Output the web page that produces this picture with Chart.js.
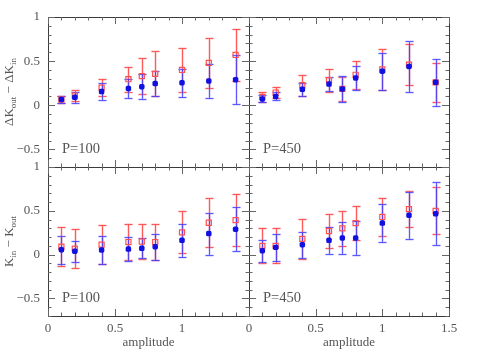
<!DOCTYPE html>
<html><head><meta charset="utf-8">
<script src="https://cdn.jsdelivr.net/npm/chart.js@4/dist/chart.umd.min.js"></script>
<style>
html,body{margin:0;padding:0;background:#fff;}
#wrap{position:relative;width:478px;height:357px;}
#wrap canvas{position:absolute;left:0;top:0;}
</style></head>
<body><div id="wrap">
<canvas id="c0" width="478" height="357"></canvas>
<canvas id="c1" width="478" height="357"></canvas>
<canvas id="c2" width="478" height="357"></canvas>
<canvas id="c3" width="478" height="357"></canvas>
</div>
<script>
// ---- data ----
const amplitude = [0.1, 0.2, 0.4, 0.6, 0.7, 0.8, 1.0, 1.2, 1.4];
const xTickLabels = ['0', '0.5', '1', '1.5'];
const yTickLabels = ['\u22120.5', '0', '0.5', '1'];
const panelLabels = ['P=100', 'P=450', 'P=100', 'P=450'];
const xTitle = 'amplitude';

const tlBlue = [0.065, 0.09, 0.155, 0.19, 0.21, 0.245, 0.255, 0.275, 0.29];
const tlBlueErr = [0.045, 0.065, 0.095, 0.11, 0.14, 0.145, 0.16, 0.19, 0.28];
const tlRed = [0.065, 0.11, 0.2, 0.295, 0.33, 0.355, 0.40, 0.48, 0.57];
const tlRedErr = [0.045, 0.06, 0.1, 0.14, 0.2, 0.255, 0.245, 0.28, 0.29];

const trBlue = [0.072, 0.10, 0.18, 0.24, 0.185, 0.31, 0.386, 0.44, 0.26];
const trBlueErr = [0.04, 0.045, 0.07, 0.08, 0.145, 0.136, 0.21, 0.29, 0.265];
const trRed = [0.095, 0.144, 0.227, 0.284, 0.185, 0.345, 0.405, 0.46, 0.26];
const trRedErr = [0.057, 0.06, 0.117, 0.13, 0.14, 0.16, 0.23, 0.23, 0.22];

const blBlue = [0.057, 0.04, 0.053, 0.064, 0.072, 0.09, 0.163, 0.24, 0.29];
const blBlueErr = [0.16, 0.12, 0.16, 0.14, 0.115, 0.15, 0.185, 0.24, 0.25];
const blRed = [0.09, 0.068, 0.114, 0.144, 0.15, 0.144, 0.254, 0.364, 0.394];
const blRedErr = [0.22, 0.22, 0.22, 0.2, 0.2, 0.2, 0.24, 0.28, 0.3];

const brBlue = [0.045, 0.083, 0.114, 0.163, 0.19, 0.19, 0.36, 0.45, 0.466];
const brBlueErr = [0.125, 0.155, 0.15, 0.15, 0.185, 0.19, 0.215, 0.27, 0.36];
const brRed = [0.1, 0.1, 0.18, 0.27, 0.3, 0.36, 0.43, 0.52, 0.5];
const brRedErr = [0.2, 0.2, 0.225, 0.19, 0.2, 0.19, 0.22, 0.21, 0.27];

// ---- layout ----
const W = 478, H = 357;
const colX = [[48, 249], [249, 449]];
const rowY = [[17, 167], [167, 316]];
const FONT = '"Liberation Serif", "DejaVu Serif", serif';
const INK = '#3a3a3a';
const TEXT = '#555';

function pts(xs, ys) { return xs.map((x, i) => ({x: x, y: ys[i]})); }

const errorBarPlugin = {
  id: 'errbars',
  beforeDatasetsDraw(chart) {
    const ctx = chart.ctx;
    const ys = chart.scales.y;
    ctx.save();
    const metas = chart.getSortedVisibleDatasetMetas().slice().reverse();
    metas.forEach(meta => {
      const ds = chart.data.datasets[meta.index];
      if (!ds.err) return;
      meta.data.forEach((el, i) => {
        const v = ds.data[i].y, e = ds.err[i];
        const x = Math.round(el.x) + 0.5;
        const y1 = Math.round(ys.getPixelForValue(v + e)) + 0.5, y2 = Math.round(ys.getPixelForValue(v - e)) + 0.5;
        ctx.strokeStyle = ds.haloColor; ctx.lineWidth = 2.5;
        ctx.beginPath();
        ctx.moveTo(x, y1); ctx.lineTo(x, y2);
        ctx.moveTo(x - 4, y1); ctx.lineTo(x + 4, y1);
        ctx.moveTo(x - 4, y2); ctx.lineTo(x + 4, y2);
        ctx.stroke();
        ctx.strokeStyle = ds.barColor; ctx.lineWidth = 1;
        ctx.beginPath();
        ctx.moveTo(x, y1); ctx.lineTo(x, y2);
        ctx.moveTo(x - 4, y1); ctx.lineTo(x + 4, y1);
        ctx.moveTo(x - 4, y2); ctx.lineTo(x + 4, y2);
        ctx.stroke();
      });
    });
    ctx.restore();
  }
};

function drawSubText(ctx, parts, cx, cy, rotate) {
  ctx.save();
  ctx.translate(cx, cy);
  if (rotate) ctx.rotate(-Math.PI / 2);
  const big = '13px ' + FONT, small = '9px ' + FONT;
  let total = 0;
  parts.forEach(p => { ctx.font = p[1] ? small : big; total += ctx.measureText(p[0]).width; });
  let x = -total / 2;
  ctx.fillStyle = TEXT; ctx.textBaseline = 'middle'; ctx.textAlign = 'left';
  parts.forEach(p => {
    ctx.font = p[1] ? small : big;
    ctx.fillText(p[0], x, p[1] ? 4 : 0);
    x += ctx.measureText(p[0]).width;
  });
  ctx.restore();
}

const framePlugin = {
  id: 'frame',
  afterDraw(chart) {
    const o = chart.options.plugins.frame;
    const ctx = chart.ctx, ca = chart.chartArea;
    const xs = chart.scales.x, ys = chart.scales.y;
    ctx.save();
    ctx.strokeStyle = INK; ctx.lineWidth = 1;
    ctx.strokeRect(Math.round(ca.left) + 0.5, Math.round(ca.top) + 0.5, Math.round(ca.right - ca.left), Math.round(ca.bottom - ca.top));
    ctx.strokeStyle = '#666';
    ctx.beginPath();
    for (let k = 0; k <= 15; k++) {
      const v = k / 10;
      const px = Math.round(xs.getPixelForValue(v)) + 0.5;
      const len = (k % 5 === 0) ? 7 : 3.5;
      ctx.moveTo(px, ca.top); ctx.lineTo(px, ca.top + len);
      ctx.moveTo(px, ca.bottom); ctx.lineTo(px, ca.bottom - len);
    }
    for (let k = -7; k <= 10; k++) {
      const v = k / 10;
      const py = Math.round(ys.getPixelForValue(v)) + 0.5;
      const len = (k % 5 === 0) ? 7 : 3.5;
      ctx.moveTo(ca.left, py); ctx.lineTo(ca.left + len, py);
      ctx.moveTo(ca.right, py); ctx.lineTo(ca.right - len, py);
    }
    ctx.stroke();
    ctx.fillStyle = TEXT;
    ctx.font = '13px ' + FONT;
    if (o.yLabels) {
      ctx.textAlign = 'right'; ctx.textBaseline = 'middle';
      [-0.5, 0, 0.5, 1].forEach((v, i) => {
        ctx.fillText(yTickLabels[i], ca.left - 8, ys.getPixelForValue(v));
      });
    }
    if (o.xLabels) {
      ctx.textAlign = 'center'; ctx.textBaseline = 'top';
      [0, 0.5, 1, 1.5].forEach((v, i) => {
        if (i < o.xLabels) ctx.fillText(xTickLabels[i], xs.getPixelForValue(v), ca.bottom + 6);
      });
      ctx.fillText(xTitle, (ca.left + ca.right) / 2, ca.bottom + 20);
    }
    ctx.textAlign = 'left'; ctx.textBaseline = 'alphabetic';
    ctx.font = '14.5px ' + FONT;
    ctx.fillText(o.label, ca.left + 14, ca.bottom - 14);
    if (o.yTitle) drawSubText(ctx, o.yTitle, 10, (ca.top + ca.bottom) / 2, true);
    ctx.restore();
  }
};

function makeChart(id, col, row, blue, blueErr, red, redErr, frameOpts) {
  const [L, R] = colX[col], [T, B] = rowY[row];
  return new Chart(document.getElementById(id), {
    type: 'scatter',
    data: {
      datasets: [
        {
          data: pts(amplitude, blue), err: blueErr, order: 0,
          barColor: 'rgba(60,60,255,0.8)', haloColor: 'rgba(130,130,255,0.3)',
          pointStyle: 'rectRounded', pointRadius: 3.2, backgroundColor: '#1010e0', borderColor: '#1010e0', borderWidth: 0
        },
        {
          data: pts(amplitude, red), err: redErr, order: 1,
          barColor: 'rgba(255,60,60,0.8)', haloColor: 'rgba(255,130,130,0.35)',
          pointStyle: 'rect', pointRadius: 3.6, backgroundColor: 'rgba(255,255,255,0)', borderColor: '#ff5050', borderWidth: 1.2
        }
      ]
    },
    options: {
      responsive: false, animation: false, devicePixelRatio: 1,
      layout: {padding: {left: L, right: W - R, top: T, bottom: H - B}},
      scales: {
        x: {type: 'linear', min: 0, max: 1.5, display: false},
        y: {type: 'linear', min: -0.7, max: 1, display: false}
      },
      plugins: {legend: {display: false}, tooltip: {enabled: false}, frame: frameOpts},
      clip: false
    },
    plugins: [errorBarPlugin, framePlugin]
  });
}

const topTitle = [['\u0394K', false], ['out', true], [' \u2212 \u0394K', false], ['in', true]];
const botTitle = [['K', false], ['in', true], [' \u2212 K', false], ['out', true]];

makeChart('c0', 0, 0, tlBlue, tlBlueErr, tlRed, tlRedErr, {label: panelLabels[0], yLabels: true, xLabels: 0, yTitle: topTitle});
makeChart('c1', 1, 0, trBlue, trBlueErr, trRed, trRedErr, {label: panelLabels[1], yLabels: false, xLabels: 0});
makeChart('c2', 0, 1, blBlue, blBlueErr, blRed, blRedErr, {label: panelLabels[2], yLabels: true, xLabels: 3, yTitle: botTitle});
makeChart('c3', 1, 1, brBlue, brBlueErr, brRed, brRedErr, {label: panelLabels[3], yLabels: false, xLabels: 4});
</script>
</body></html>
